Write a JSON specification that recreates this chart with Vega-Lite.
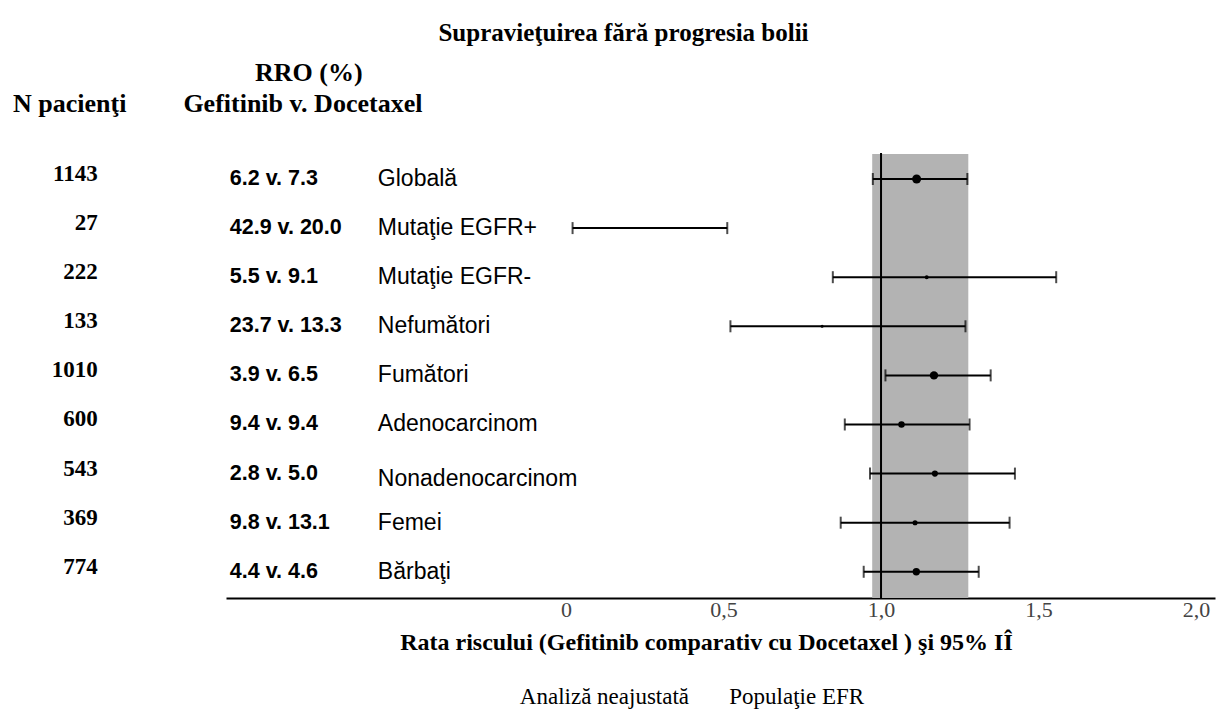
{
  "$schema": "https://vega.github.io/schema/vega-lite/v6.json",
  "width": 989,
  "height": 444,
  "autosize": "none",
  "padding": {"left": 226, "top": 154, "right": 4, "bottom": 115},
  "background": "white",
  "title": {
    "text": "Supravieţuirea fără progresia bolii",
    "font": "Liberation Serif",
    "fontSize": 25,
    "fontWeight": "bold",
    "color": "black",
    "anchor": "middle",
    "dx": -97,
    "offset": 14
  },
  "config": {
    "view": {"stroke": null},
    "axis": {"grid": false}
  },
  "datasets": {
    "rows": [
      {"row": 1, "grup": "Globală", "n": 1143, "rro": "6.2 v. 7.3", "hr": 1.113, "lo": 0.974, "hi": 1.274},
      {"row": 2, "grup": "Mutaţie EGFR+", "n": 27, "rro": "42.9 v. 20.0", "hr": 0.113, "lo": 0.021, "hi": 0.512},
      {"row": 3, "grup": "Mutaţie EGFR-", "n": 222, "rro": "5.5 v. 9.1", "hr": 1.145, "lo": 0.847, "hi": 1.556},
      {"row": 4, "grup": "Nefumători", "n": 133, "rro": "23.7 v. 13.3", "hr": 0.813, "lo": 0.522, "hi": 1.268},
      {"row": 5, "grup": "Fumători", "n": 1010, "rro": "3.9 v. 6.5", "hr": 1.168, "lo": 1.014, "hi": 1.348},
      {"row": 6, "grup": "Adenocarcinom", "n": 600, "rro": "9.4 v. 9.4", "hr": 1.065, "lo": 0.885, "hi": 1.281},
      {"row": 7, "grup": "Nonadenocarcinom", "n": 543, "rro": "2.8 v. 5.0", "hr": 1.171, "lo": 0.965, "hi": 1.425},
      {"row": 8, "grup": "Femei", "n": 369, "rro": "9.8 v. 13.1", "hr": 1.108, "lo": 0.872, "hi": 1.408},
      {"row": 9, "grup": "Bărbaţi", "n": 774, "rro": "4.4 v. 4.6", "hr": 1.112, "lo": 0.945, "hi": 1.31}
    ],
    "band": [{"lo": 0.972, "hi": 1.277}],
    "one": [{}]
  },
  "layer": [
    {
      "data": {"name": "band"},
      "mark": {"type": "rect", "color": "#b3b3b3"},
      "encoding": {
        "x": {"field": "lo", "type": "quantitative",
          "scale": {"domain": [-1.079, 2.06], "nice": false, "zero": false},
          "axis": {
            "values": [0, 0.5, 1, 1.5, 2],
            "labelExpr": "datum.value == 0 ? '0' : replace(format(datum.value, '.1f'), '.', ',')",
            "ticks": false,
            "domain": true,
            "domainColor": "black",
            "domainWidth": 2,
            "labelFont": "Liberation Serif",
            "labelFontSize": 22,
            "labelColor": "#444444",
            "labelPadding": 1,
            "labelFlush": false,
            "title": "Rata riscului (Gefitinib comparativ cu Docetaxel ) şi 95% IÎ",
            "titleFont": "Liberation Serif",
            "titleFontSize": 24,
            "titleFontWeight": "bold",
            "titleColor": "black",
            "titlePadding": 10,
            "titleX": 480
          }
        },
        "x2": {"field": "hi"},
        "y": {"datum": 0.491, "type": "quantitative",
          "scale": {"domain": [0.491, 9.534], "reverse": true, "nice": false, "zero": false},
          "axis": null},
        "y2": {"datum": 9.534}
      }
    },
    {
      "data": {"name": "one"},
      "mark": {"type": "rule", "color": "black", "strokeWidth": 2},
      "encoding": {
        "x": {"datum": 1, "type": "quantitative"},
        "y": {"datum": 0.47, "type": "quantitative"},
        "y2": {"datum": 9.534}
      }
    },
    {
      "data": {"name": "rows"},
      "mark": {"type": "rule", "color": "black", "strokeWidth": 2},
      "encoding": {
        "x": {"field": "lo", "type": "quantitative"},
        "x2": {"field": "hi"},
        "y": {"field": "row", "type": "quantitative"}
      }
    },
    {
      "data": {"name": "rows"},
      "mark": {"type": "tick", "orient": "vertical", "color": "black", "size": 12, "thickness": 2},
      "encoding": {
        "x": {"field": "lo", "type": "quantitative"},
        "y": {"field": "row", "type": "quantitative"}
      }
    },
    {
      "data": {"name": "rows"},
      "mark": {"type": "tick", "orient": "vertical", "color": "black", "size": 12, "thickness": 2},
      "encoding": {
        "x": {"field": "hi", "type": "quantitative"},
        "y": {"field": "row", "type": "quantitative"}
      }
    },
    {
      "data": {"name": "rows"},
      "mark": {"type": "circle", "color": "black", "opacity": 1},
      "encoding": {
        "x": {"field": "hr", "type": "quantitative"},
        "y": {"field": "row", "type": "quantitative"},
        "size": {"field": "n", "type": "quantitative", "scale": {"domain": [0, 1143], "range": [0, 80]}, "legend": null}
      }
    },
    {
      "data": {"name": "rows"},
      "mark": {"type": "text", "align": "right", "baseline": "middle", "dy": -5, "font": "Liberation Serif", "fontWeight": "bold", "fontSize": 23, "color": "black"},
      "encoding": {
        "x": {"datum": -1.486, "type": "quantitative"},
        "y": {"field": "row", "type": "quantitative"},
        "text": {"field": "n", "type": "nominal"}
      }
    },
    {
      "data": {"name": "rows"},
      "mark": {"type": "text", "align": "left", "baseline": "middle", "font": "Liberation Sans", "fontWeight": "bold", "fontSize": 21.5, "color": "black"},
      "encoding": {
        "x": {"datum": -1.067, "type": "quantitative"},
        "y": {"field": "row", "type": "quantitative"},
        "text": {"field": "rro", "type": "nominal"}
      }
    },
    {
      "data": {"name": "rows"},
      "transform": [{"filter": "datum.grup != 'Nonadenocarcinom'"}],
      "mark": {"type": "text", "align": "left", "baseline": "middle", "font": "Liberation Sans", "fontSize": 23, "color": "black"},
      "encoding": {
        "x": {"datum": -0.597, "type": "quantitative"},
        "y": {"field": "row", "type": "quantitative"},
        "text": {"field": "grup", "type": "nominal"}
      }
    },
    {
      "data": {"name": "rows"},
      "transform": [{"filter": "datum.grup == 'Nonadenocarcinom'"}],
      "mark": {"type": "text", "align": "left", "baseline": "middle", "dy": 5, "font": "Liberation Sans", "fontSize": 23, "color": "black"},
      "encoding": {
        "x": {"datum": -0.597, "type": "quantitative"},
        "y": {"field": "row", "type": "quantitative"},
        "text": {"field": "grup", "type": "nominal"}
      }
    },
    {
      "data": {"name": "one"},
      "mark": {"type": "text", "align": "center", "baseline": "middle", "font": "Liberation Serif", "fontWeight": "bold", "fontSize": 26, "color": "black", "text": "N pacienţi"},
      "encoding": {
        "x": {"datum": -1.575, "type": "quantitative"},
        "y": {"datum": -0.527, "type": "quantitative"}
      }
    },
    {
      "data": {"name": "one"},
      "mark": {"type": "text", "align": "center", "baseline": "middle", "font": "Liberation Serif", "fontWeight": "bold", "fontSize": 26, "color": "black", "text": "RRO (%)"},
      "encoding": {
        "x": {"datum": -0.816, "type": "quantitative"},
        "y": {"datum": -1.159, "type": "quantitative"}
      }
    },
    {
      "data": {"name": "one"},
      "mark": {"type": "text", "align": "center", "baseline": "middle", "font": "Liberation Serif", "fontWeight": "bold", "fontSize": 26, "color": "black", "text": "Gefitinib v. Docetaxel"},
      "encoding": {
        "x": {"datum": -0.835, "type": "quantitative"},
        "y": {"datum": -0.527, "type": "quantitative"}
      }
    },
    {
      "data": {"name": "one"},
      "mark": {"type": "text", "align": "center", "baseline": "middle", "font": "Liberation Serif", "fontSize": 23, "color": "black", "text": "Analiză neajustată\u00a0\u00a0\u00a0\u00a0\u00a0\u00a0 Populaţie EFR"},
      "encoding": {
        "x": {"datum": 0.4, "type": "quantitative"},
        "y": {"datum": 11.55, "type": "quantitative"}
      }
    }
  ]
}
